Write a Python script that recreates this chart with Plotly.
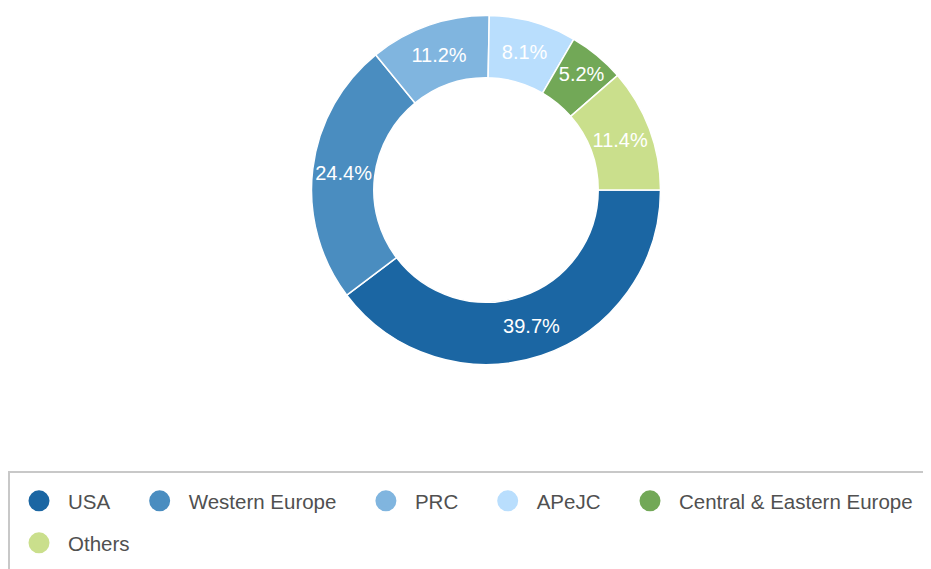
import plotly.graph_objects as go

regions = ["USA", "Western Europe", "PRC", "APeJC", "Central & Eastern Europe", "Others"]
shares = [39.7, 24.4, 11.2, 8.1, 5.2, 11.4]
colors = ["#1b66a3", "#4a8dc0", "#80b5df", "#b9defd", "#72a857", "#cadf8c"]
legend_rows = ["legend", "legend", "legend", "legend", "legend", "legend2"]

OFF = 8  # page body margin offset
W, H = 931 - OFF, 569 - OFF

cx, cy, r = 486 - OFF, 190 - OFF, 174.5

fig = go.Figure()

fig.add_trace(go.Pie(
    labels=regions,
    values=shares,
    sort=False,
    direction="clockwise",
    rotation=90,
    hole=0.643,
    marker=dict(colors=colors, line=dict(color="white", width=1.5)),
    texttemplate="%{percent:.1%}",
    textposition="inside",
    insidetextorientation="horizontal",
    textfont=dict(color="white", size=20, family="Liberation Sans, Arial"),
    showlegend=False,
    domain=dict(x=[(cx - r) / W, (cx + r) / W], y=[(H - (cy + r)) / H, (H - (cy - r)) / H]),
))

NB = "\u00a0"
TRAIL = NB * 2 + "\u2009"
for i, (name, col, lg) in enumerate(zip(regions, colors, legend_rows)):
    last_in_row = (i == len(regions) - 1) or (legend_rows[i + 1] != lg)
    fig.add_trace(go.Scatter(
        x=[None], y=[None], mode="markers",
        name=name + ("" if last_in_row else TRAIL),
        marker=dict(symbol="circle", size=16, color=col, line=dict(color=col, width=5)),
        showlegend=True, legend=lg,
    ))

legend_font = dict(family="Liberation Sans, Arial", size=20.5, color="#505050")
common = dict(
    orientation="h", xanchor="left", yanchor="top",
    bgcolor="rgba(0,0,0,0)", borderwidth=0,
    font=legend_font, itemwidth=48, tracegroupgap=0,
)

# legend frame: top and left edges (the right and bottom edges fall outside the view)
bx0 = (9 - OFF) / W
by0 = (H - (472 - OFF)) / H
frame_path = f"M {bx0},-0.1 L {bx0},{by0} L 1.1,{by0}"

fig.update_layout(
    width=W, height=H,
    margin=dict(l=0, r=0, t=0, b=0),
    paper_bgcolor="white", plot_bgcolor="white",
    xaxis=dict(visible=False), yaxis=dict(visible=False),
    uniformtext=dict(minsize=20, mode="show"),
    legend=dict(x=2 / W, y=(H - (481 - OFF)) / H, **common),
    legend2=dict(x=2 / W, y=(H - (523 - OFF)) / H, **common),
    shapes=[dict(
        type="path", xref="paper", yref="paper", path=frame_path,
        line=dict(color="#c8c8c8", width=2),
    )],
)

fig.write_html("out.html")
